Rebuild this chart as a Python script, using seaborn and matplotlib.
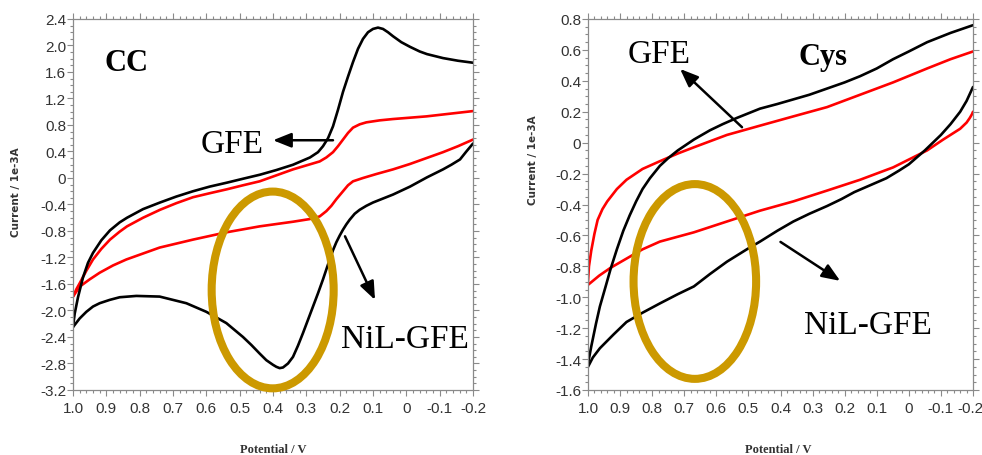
import matplotlib
matplotlib.use("Agg")
import matplotlib.pyplot as plt
from matplotlib.patches import Ellipse
from matplotlib.ticker import AutoMinorLocator, FixedLocator
from matplotlib.transforms import ScaledTranslation
import seaborn as sns
import pandas as pd

# ---------------- data ----------------
# Left panel: CC
cc_nil_fwd_x = [1.0, 0.995, 0.985, 0.97, 0.955, 0.94, 0.915, 0.889, 0.86, 0.838, 0.79, 0.739, 0.69,
                0.64, 0.59, 0.538, 0.489, 0.439, 0.39, 0.34, 0.289, 0.265, 0.25, 0.235, 0.22, 0.205,
                0.19, 0.175, 0.16, 0.145, 0.13, 0.115, 0.10, 0.085, 0.07, 0.055, 0.04, 0.015,
                -0.011, -0.04, -0.062, -0.11, -0.155, -0.2]
cc_nil_fwd_y = [-2.25, -2.05, -1.80, -1.50, -1.28, -1.13, -0.94, -0.79, -0.67, -0.60, -0.47, -0.37, -0.28,
                -0.20, -0.13, -0.07, -0.01, 0.05, 0.12, 0.20, 0.31, 0.39, 0.48, 0.60, 0.78, 1.03,
                1.30, 1.53, 1.75, 1.95, 2.10, 2.20, 2.25, 2.27, 2.25, 2.20, 2.14, 2.05,
                1.98, 1.91, 1.87, 1.81, 1.77, 1.74]
cc_nil_rev_x = [-0.2, -0.18, -0.161, -0.135, -0.11, -0.062, -0.011, 0.04, 0.07, 0.10, 0.12, 0.14, 0.155,
                0.17, 0.18, 0.19, 0.20, 0.21, 0.22, 0.23, 0.25, 0.265, 0.28, 0.295, 0.31, 0.325,
                0.34, 0.355, 0.37, 0.38, 0.39, 0.40, 0.42, 0.44, 0.465, 0.49, 0.54, 0.60, 0.66,
                0.74, 0.81, 0.86, 0.89, 0.92, 0.94, 0.96, 0.98, 1.0]
cc_nil_rev_y = [0.52, 0.40, 0.28, 0.20, 0.13, 0.01, -0.13, -0.25, -0.31, -0.37, -0.42, -0.48, -0.54,
                -0.63, -0.70, -0.78, -0.87, -0.97, -1.09, -1.23, -1.53, -1.74, -1.94, -2.14, -2.34, -2.53,
                -2.70, -2.80, -2.86, -2.87, -2.85, -2.82, -2.75, -2.65, -2.52, -2.40, -2.19, -2.02, -1.89,
                -1.79, -1.78, -1.80, -1.84, -1.89, -1.94, -2.02, -2.12, -2.25]
cc_gfe_fwd_x = [1.0, 0.99, 0.979, 0.96, 0.94, 0.915, 0.889, 0.86, 0.838, 0.79, 0.739, 0.69, 0.64,
                0.59, 0.538, 0.49, 0.44, 0.39, 0.34, 0.30, 0.26, 0.24, 0.22, 0.205, 0.19, 0.175,
                0.16, 0.14, 0.12, 0.08, 0.04, -0.06, -0.13, -0.2]
cc_gfe_fwd_y = [-1.79, -1.68, -1.58, -1.40, -1.23, -1.07, -0.93, -0.81, -0.73, -0.60, -0.48, -0.38, -0.29,
                -0.23, -0.17, -0.11, -0.05, 0.04, 0.13, 0.19, 0.25, 0.31, 0.39, 0.48, 0.58, 0.68,
                0.76, 0.81, 0.84, 0.87, 0.89, 0.93, 0.97, 1.01]
cc_gfe_rev_x = [-0.2, -0.155, -0.11, -0.06, -0.01, 0.04, 0.09, 0.13, 0.16, 0.175, 0.19, 0.21, 0.225,
                0.24, 0.26, 0.29, 0.34, 0.44, 0.54, 0.64, 0.74, 0.84, 0.88, 0.92, 0.95, 0.98, 1.0]
cc_gfe_rev_y = [0.58, 0.48, 0.39, 0.30, 0.21, 0.13, 0.06, 0.00, -0.05, -0.11, -0.20, -0.32, -0.42,
                -0.50, -0.58, -0.62, -0.66, -0.73, -0.82, -0.93, -1.05, -1.23, -1.32, -1.43, -1.53, -1.64, -1.79]

# Right panel: Cys
cys_nil_fwd_x = [1.0, 0.99, 0.975, 0.963, 0.945, 0.93, 0.91, 0.89, 0.87, 0.85, 0.83, 0.807, 0.776,
                 0.75, 0.72, 0.67, 0.62, 0.58, 0.536, 0.5, 0.464, 0.41, 0.36, 0.31, 0.255, 0.2,
                 0.152, 0.1, 0.049, 0.0, -0.057, -0.13, -0.2]
cys_nil_fwd_y = [-1.43, -1.32, -1.17, -1.06, -0.93, -0.82, -0.69, -0.57, -0.47, -0.38, -0.30, -0.23, -0.15,
                 -0.10, -0.05, 0.02, 0.08, 0.12, 0.16, 0.19, 0.22, 0.25, 0.28, 0.31, 0.35, 0.39,
                 0.43, 0.48, 0.54, 0.59, 0.65, 0.71, 0.76]
cys_nil_rev_x = [1.0, 0.985, 0.963, 0.92, 0.88, 0.83, 0.776, 0.72, 0.67, 0.645, 0.62, 0.567, 0.505,
                 0.464, 0.41, 0.36, 0.31, 0.255, 0.21, 0.17, 0.12, 0.07, 0.03, 0.0, -0.05, -0.1,
                 -0.13, -0.16, -0.18, -0.2]
cys_nil_rev_y = [-1.45, -1.39, -1.33, -1.24, -1.16, -1.10, -1.04, -0.98, -0.93, -0.89, -0.85, -0.77, -0.69,
                 -0.64, -0.57, -0.51, -0.46, -0.41, -0.365, -0.32, -0.275, -0.23, -0.18, -0.14, -0.05, 0.05,
                 0.12, 0.20, 0.27, 0.36]
cys_gfe_fwd_x = [1.0, 0.997, 0.99, 0.98, 0.97, 0.955, 0.94, 0.91, 0.88, 0.83, 0.776, 0.72, 0.67,
                 0.567, 0.464, 0.36, 0.255, 0.152, 0.049, -0.057, -0.13, -0.2]
cys_gfe_fwd_y = [-0.90, -0.80, -0.70, -0.59, -0.50, -0.43, -0.38, -0.30, -0.24, -0.17, -0.12, -0.07, -0.03,
                 0.05, 0.11, 0.17, 0.23, 0.31, 0.39, 0.48, 0.54, 0.59]
cys_gfe_rev_x = [1.0, 0.965, 0.93, 0.88, 0.83, 0.776, 0.67, 0.567, 0.464, 0.36, 0.255, 0.152, 0.049,
                 -0.057, -0.107, -0.16, -0.18, -0.19, -0.197, -0.2]
cys_gfe_rev_y = [-0.92, -0.86, -0.81, -0.75, -0.69, -0.64, -0.58, -0.51, -0.44, -0.38, -0.31, -0.24, -0.16,
                 -0.05, 0.02, 0.09, 0.13, 0.16, 0.185, 0.20]

x_ticks = [1.0, 0.9, 0.8, 0.7, 0.6, 0.5, 0.4, 0.3, 0.2, 0.1, 0.0, -0.1, -0.2]
cc_y_ticks = [2.4, 2.0, 1.6, 1.2, 0.8, 0.4, 0.0, -0.4, -0.8, -1.2, -1.6, -2.0, -2.4, -2.8, -3.2]
cys_y_ticks = [0.8, 0.6, 0.4, 0.2, 0.0, -0.2, -0.4, -0.6, -0.8, -1.0, -1.2, -1.4, -1.6]

y_label = "Current / 1e-3A"
x_label = "Potential / V"

# ---------------- style ----------------
sns.set_theme(style="ticks")
plt.rcParams["font.family"] = ["Liberation Sans", "DejaVu Sans"]
plt.rcParams["axes.unicode_minus"] = False

BLACK = "#000000"
RED = "#FF0000"
GOLD = "#CC9900"
SPINE = "#8A8A8A"
TXT = "#333333"
TICKFONT = ["Liberation Sans", "DejaVu Sans"]
SERIF = ["Liberation Serif", "DejaVu Serif"]

fig = plt.figure(figsize=(9.82, 4.56), dpi=100)
W, H = 982, 456


def axes_px(x0, x1, y0, y1):
    return fig.add_axes([x0 / W, 1 - y1 / H, (x1 - x0) / W, (y1 - y0) / H])


axL = axes_px(73, 473, 20, 391)
axR = axes_px(588, 973, 20, 391)


def fmt(v):
    return "0" if abs(v) < 1e-9 else f"{v:.1f}"


def draw(ax, curves):
    for xs, ys, col in curves:
        df = pd.DataFrame({"x": xs, "y": ys})
        sns.lineplot(data=df, x="x", y="y", sort=False, estimator=None, color=col,
                     lw=1.9, ax=ax, legend=False)
    for ln in ax.lines:
        ln.set_solid_joinstyle("round")
        ln.set_solid_capstyle("round")


def style_axes(ax, yticks, ylim):
    ax.set_xlim(1.0, -0.2)
    ax.set_ylim(*ylim)
    ax.xaxis.set_major_locator(FixedLocator(x_ticks))
    ax.yaxis.set_major_locator(FixedLocator(yticks))
    ax.set_xticklabels([fmt(v) for v in x_ticks])
    ax.set_yticklabels([fmt(v) for v in yticks])
    ax.xaxis.set_minor_locator(AutoMinorLocator(5))
    ax.yaxis.set_minor_locator(AutoMinorLocator(4))
    ax.tick_params(which="both", direction="out", color=SPINE, width=0.8,
                   top=True, right=True, labeltop=False, labelright=False)
    ax.tick_params(which="major", length=4)
    ax.tick_params(which="minor", length=2)
    ax.tick_params(axis="y", pad=1, labelsize=11, labelcolor=TXT)
    ax.tick_params(axis="x", pad=4, labelsize=11, labelcolor=TXT)
    for lbl in ax.get_xticklabels() + ax.get_yticklabels():
        lbl.set_fontfamily(TICKFONT)
    for sp in ax.spines.values():
        sp.set_visible(True)
        sp.set_color(SPINE)
        sp.set_linewidth(0.9)
    ax.set_xlabel("")
    ax.set_ylabel("")
    ax.set_facecolor("white")


draw(axL, [(cc_gfe_fwd_x, cc_gfe_fwd_y, RED), (cc_gfe_rev_x, cc_gfe_rev_y, RED),
           (cc_nil_fwd_x, cc_nil_fwd_y, BLACK), (cc_nil_rev_x, cc_nil_rev_y, BLACK)])
draw(axR, [(cys_gfe_fwd_x, cys_gfe_fwd_y, RED), (cys_gfe_rev_x, cys_gfe_rev_y, RED),
           (cys_nil_fwd_x, cys_nil_fwd_y, BLACK), (cys_nil_rev_x, cys_nil_rev_y, BLACK)])

style_axes(axL, cc_y_ticks, (-3.2, 2.4))
style_axes(axR, cys_y_ticks, (-1.6, 0.8))

# keep the last tick label of the right panel inside the canvas
last_lbl = axR.get_xticklabels()[-1]
last_lbl.set_transform(last_lbl.get_transform() + ScaledTranslation(-3 / 100, 0, fig.dpi_scale_trans))

# ellipses highlighting the region
axL.add_patch(Ellipse((0.401, -1.69), 0.366, 2.97, fill=False, ec=GOLD, lw=5.8,
                      clip_on=False, zorder=5))
axR.add_patch(Ellipse((0.667, -0.898), 0.382, 1.26, fill=False, ec=GOLD, lw=5.8,
                      clip_on=False, zorder=5))

# annotations
axL.text(0.838, 1.63, "CC", fontsize=22, fontweight="bold", family=SERIF,
         ha="center", va="baseline", color="black")
axL.text(0.523, 0.387, "GFE", fontsize=24, family=SERIF, ha="center", va="baseline",
         color="black")
axL.text(0.004, -2.55, "NiL-GFE", fontsize=24, family=SERIF, ha="center", va="baseline",
         color="black")
axR.text(0.267, 0.509, "Cys", fontsize=22, fontweight="bold", family=SERIF,
         ha="center", va="baseline", color="black")
axR.text(0.779, 0.522, "GFE", fontsize=24, family=SERIF, ha="center", va="baseline",
         color="black")
axR.text(0.127, -1.231, "NiL-GFE", fontsize=24, family=SERIF, ha="center", va="baseline",
         color="black")

arrow_kw = dict(arrowstyle="-|>,head_length=0.55,head_width=0.22", color="black", lw=1.8,
                shrinkA=0, shrinkB=0, mutation_scale=20)
axL.annotate("", xy=(0.40, 0.57), xytext=(0.22, 0.57), arrowprops=arrow_kw, zorder=6)
axL.annotate("", xy=(0.094, -1.84), xytext=(0.184, -0.88), arrowprops=arrow_kw, zorder=6)
axR.annotate("", xy=(0.713, 0.477), xytext=(0.52, 0.10), arrowprops=arrow_kw, zorder=6)
axR.annotate("", xy=(0.214, -0.894), xytext=(0.40, -0.642), arrowprops=arrow_kw, zorder=6)

# axis titles
fig.text(16 / W, 1 - 192 / H, y_label, rotation=90, ha="center", va="center",
         fontsize=7.5, fontweight="bold", color=TXT, family=["DejaVu Sans"])
fig.text(533 / W, 1 - 160 / H, y_label, rotation=90, ha="center", va="center",
         fontsize=7.5, fontweight="bold", color=TXT, family=["DejaVu Sans"])
fig.text(273 / W, 1 - 450 / H, x_label, ha="center", va="center", fontsize=9,
         fontweight="bold", color=TXT, family=SERIF)
fig.text(778 / W, 1 - 450 / H, x_label, ha="center", va="center", fontsize=9,
         fontweight="bold", color=TXT, family=SERIF)

fig.savefig("out.png", dpi=100, facecolor="white")
